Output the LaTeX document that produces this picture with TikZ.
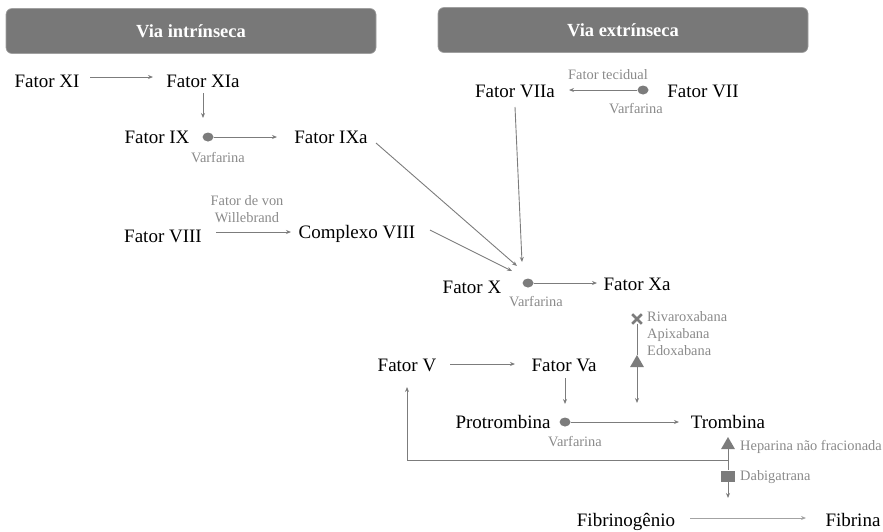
\documentclass[tikz,border=0pt]{standalone}
\usepackage{fontspec}
\setmainfont{Liberation Serif}
\usetikzlibrary{arrows.meta,shapes.geometric,shapes.misc}
\definecolor{lncol}{HTML}{7C7C7C}
\definecolor{lbcol}{HTML}{8A8A8A}
\definecolor{hdcol}{HTML}{787878}
\begin{document}
\begin{tikzpicture}[x=1pt,y=-1pt,
  fac/.style={font=\fontsize{19}{22}\selectfont, inner sep=0pt, anchor=base},
  lab/.style={font=\fontsize{14.4}{16}\selectfont, text=lbcol, inner sep=0pt, anchor=base},
  labw/.style={lab, anchor=base west},
  arr/.style={draw=lncol, line width=0.9pt, -{Stealth[length=5pt,width=4pt]}},
  plain/.style={draw=lncol, line width=0.9pt},
  dot/.style={ellipse, fill=lncol, minimum width=11pt, minimum height=9pt, inner sep=0pt},
  tri/.style={isosceles triangle, isosceles triangle apex angle=60, shape border rotate=90, fill=lncol, minimum width=13pt, minimum height=12pt, inner sep=0pt},
  sq/.style={rectangle, fill=lncol, minimum width=14pt, minimum height=11pt, inner sep=0pt},
  xm/.style={cross out, draw=lncol, line width=2.6pt, minimum size=7pt, inner sep=0pt},
  hdr/.style={rounded corners=6pt, fill=hdcol, draw=hdcol!70!white, line width=0.6pt, minimum width=370pt, minimum height=45pt, inner sep=0pt, text=white, font=\bfseries\fontsize{18.5}{22}\selectfont}
]
\useasboundingbox (0,0) rectangle (883,531);

% headers
\node[hdr] (hi) at (191,31) {Via intrínseca};
\node[hdr] (he) at (623,30) {Via extrínseca};

% intrinsic
\node[fac] (f11) at (47,87) {Fator XI};
\node[fac] (f11a) at (203,87) {Fator XIa};
\node[fac] (f9) at (157,143) {Fator IX};
\node[fac] (f9a) at (331,143) {Fator IXa};
\node[dot] (c9) at (208,137) {};
\node[lab] (v9) at (218,162) {Varfarina};
\coordinate (a11s) at (90,77);
\coordinate (a11e) at (153,77);
\coordinate (d11s) at (203,93);
\coordinate (d11e) at (203,118);
\coordinate (a9e) at (277,137);
\draw[arr] (a11s) -- (a11e);
\draw[arr] (d11s) -- (d11e);
\draw[arr] (c9) -- (a9e);

% extrinsic
\node[fac] (f7a) at (515,97) {Fator VIIa};
\node[fac] (f7) at (703,97) {Fator VII};
\node[dot] (c7) at (643,90) {};
\node[lab] (tf) at (608,79) {Fator tecidual};
\node[lab] (v7) at (636,113) {Varfarina};
\coordinate (a7e) at (569,90);
\draw[arr] (c7) -- (a7e);

% VIII
\node[fac] (f8) at (163,242) {Fator VIII};
\node[fac] (cx8) at (357,238) {Complexo VIII};
\node[lab] (vw1) at (247,205) {Fator de von};
\node[lab] (vw2) at (247,222) {Willebrand};
\coordinate (a8s) at (216,232);
\coordinate (a8e) at (291,232);
\draw[arr] (a8s) -- (a8e);

% Factor X
\node[fac] (f10) at (472,293) {Fator X};
\node[fac] (f10a) at (637,290) {Fator Xa};
\node[dot] (c10) at (528,283) {};
\node[lab] (v10) at (536,306) {Varfarina};
\coordinate (a10e) at (597,283);
\draw[arr] (c10) -- (a10e);

\coordinate (p9s) at (376,143);
\coordinate (p9e) at (517,266);
\coordinate (p7s) at (515,107);
\coordinate (p7e) at (522,262);
\coordinate (pcs) at (430,230);
\coordinate (pce) at (512,271);
\draw[arr] (p9s) -- (p9e);
\draw[arr] (p7s) -- (p7e);
\draw[arr] (pcs) -- (pce);

% Xa inhibitors
\node[xm] (xx) at (637,319) {};
\node[tri] (t10) at (637,363) {};
\node[labw] (riv) at (647,321) {Rivaroxabana};
\node[labw] (api) at (647,338) {Apixabana};
\node[labw] (edo) at (647,355) {Edoxabana};
\coordinate (xae) at (637,403);
\draw[plain] (xx) -- (t10);
\draw[arr] (t10) -- (xae);

% V
\node[fac] (f5) at (407,371) {Fator V};
\node[fac] (f5a) at (564,371) {Fator Va};
\coordinate (a5s) at (450,364);
\coordinate (a5e) at (515,364);
\coordinate (d5s) at (565,378);
\coordinate (d5e) at (565,404);
\draw[arr] (a5s) -- (a5e);
\draw[arr] (d5s) -- (d5e);

% Prothrombin
\node[fac] (ptr) at (503,428) {Protrombina};
\node[fac] (trb) at (728,428) {Trombina};
\node[dot] (cp) at (565,422) {};
\node[lab] (vp) at (575,446) {Varfarina};
\coordinate (ape) at (679,422);
\draw[arr] (cp) -- (ape);

% Thrombin inhibitors
\node[tri] (th) at (728,445) {};
\node[sq] (sd) at (728,476) {};
\node[labw] (hep) at (740,450) {Heparina não fracionada};
\node[labw] (dab) at (740,480) {Dabigatrana};
\coordinate (fb) at (728,460);
\coordinate (fbc) at (407,460);
\coordinate (fbe) at (407,387);
\coordinate (tde) at (728,498);
\draw[plain] (th) -- (sd);
\draw[arr] (sd) -- (tde);
\draw[arr] (fb) -- (fbc) -- (fbe);

% Fibrinogen
\node[fac] (fbg) at (626,526) {Fibrinogênio};
\node[fac] (fbn) at (853,526) {Fibrina};
\coordinate (afs) at (690,518);
\coordinate (afe) at (806,518);
\draw[arr, draw=lncol!70] (afs) -- (afe);
\end{tikzpicture}
\end{document}
